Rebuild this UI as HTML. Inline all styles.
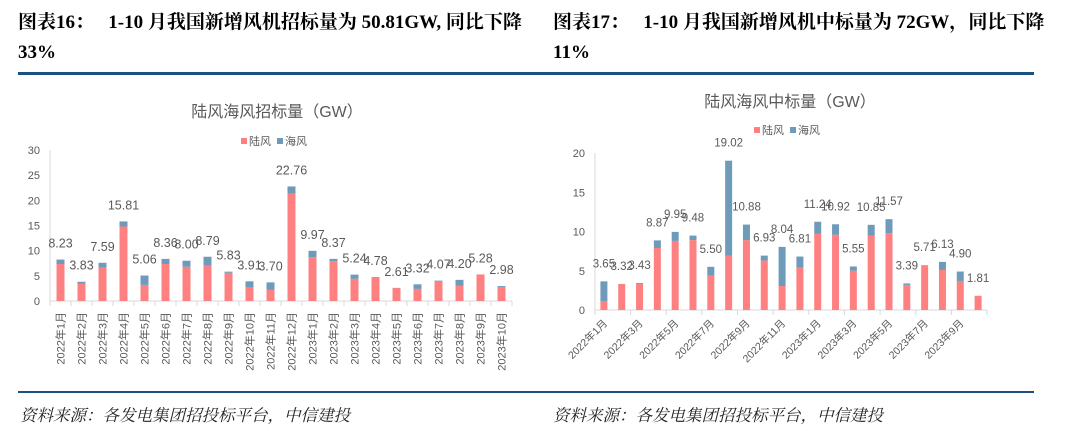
<!DOCTYPE html>
<html><head><meta charset="utf-8">
<style>
html,body{margin:0;padding:0;background:#fff;}
body{width:1080px;height:431px;position:relative;overflow:hidden;font-family:"Liberation Sans","Noto Sans CJK SC",sans-serif;}
.ttl{position:absolute;font-family:"Liberation Serif","Noto Serif CJK SC",serif;font-weight:bold;font-size:19px;color:#000;white-space:nowrap;}
.rule{position:absolute;height:3px;background:#1b5083;}
.rule2{position:absolute;height:2px;background:#1b5083;}
.src{position:absolute;font-family:"Liberation Serif","Noto Serif CJK SC",serif;font-style:italic;font-size:16.5px;color:#222;white-space:nowrap;}
svg{position:absolute;left:0;top:0;}
</style></head><body>
<div class="ttl" style="left:18px;top:7px;">图表16：&nbsp;&nbsp; 1-10 月我国新增风机招标量为 50.81GW, 同比下降</div>
<div class="ttl" style="left:18px;top:42px;">33%</div>
<div class="ttl" style="left:553px;top:7px;">图表17：&nbsp;&nbsp; 1-10 月我国新增风机中标量为 72GW，同比下降</div>
<div class="ttl" style="left:553px;top:42px;">11%</div>
<div class="rule" style="left:18px;top:72px;width:522px;"></div>
<div class="rule" style="left:540px;top:72px;width:494px;"></div>
<div class="rule2" style="left:18px;top:391px;width:522px;"></div>
<div class="rule2" style="left:540px;top:391px;width:494px;"></div>
<div class="src" style="left:20px;top:402px;">资料来源：各发电集团招投标平台，中信建投</div>
<div class="src" style="left:553px;top:402px;">资料来源：各发电集团招投标平台，中信建投</div>
<svg id="chart" width="1080" height="431"></svg>
<script>
const categories=["2022年1月","2022年2月","2022年3月","2022年4月","2022年5月","2022年6月","2022年7月","2022年8月","2022年9月","2022年10月","2022年11月","2022年12月","2023年1月","2023年2月","2023年3月","2023年4月","2023年5月","2023年6月","2023年7月","2023年8月","2023年9月","2023年10月"];
const bidTotal=[8.23,3.83,7.59,15.81,5.06,8.36,8.00,8.79,5.83,3.91,3.70,22.76,9.97,8.37,5.24,4.78,2.61,3.32,4.07,4.20,5.28,2.98];
const bidLand=[7.35,3.4,6.6,14.8,3.2,7.35,6.8,7.0,5.6,2.7,2.2,21.3,8.7,7.9,4.4,4.78,2.61,2.4,4.0,3.0,5.28,2.8];
const bidTicks=[0,5,10,15,20,25,30];
const winTotal=[3.65,3.32,3.43,8.87,9.95,9.48,5.50,19.02,10.88,6.93,8.04,6.81,11.24,10.92,5.55,10.85,11.57,3.39,5.71,6.13,4.90,1.81];
const winLand=[1.15,3.32,3.3,7.9,8.8,8.9,4.4,6.9,8.9,6.3,3.05,5.4,9.7,9.6,5.0,9.45,9.8,3.2,5.71,5.1,3.7,1.81];
const winTicks=[0,5,10,15,20];
const NS="http://www.w3.org/2000/svg";
const svg=document.getElementById('chart');
function mk(tag,attrs,parent){const e=document.createElementNS(NS,tag);for(const k in attrs)e.setAttribute(k,attrs[k]);(parent||svg).appendChild(e);return e;}
const LAND="#ff8080",SEA="#6f9bbb",GRID="#d9d9d9",TXT="#595959";
function drawChart(cfg){
  const g=mk('g',{});
  
  
  const n=categories.length,cw=(cfg.x1-cfg.x0)/n;
  const y=v=>cfg.y0-(v/cfg.max)*(cfg.y0-cfg.yTop);
  const xc=i=>cfg.x0+cw*(i+0.5);
  const t=mk('text',{x:cfg.titleX,y:cfg.titleY,'font-size':16,fill:TXT,'text-anchor':'middle'},g);t.textContent=cfg.title;
  
  const lg=mk('g',{},g);
  
  const lx=cfg.titleX-36;
  mk('rect',{x:lx,y:cfg.legY-7,width:6,height:6,fill:LAND},lg);
  let lt=mk('text',{x:lx+8,y:cfg.legY,'font-size':11,fill:TXT},lg);lt.textContent="陆风";
  mk('rect',{x:lx+36,y:cfg.legY-7,width:6,height:6,fill:SEA},lg);
  lt=mk('text',{x:lx+44,y:cfg.legY,'font-size':11,fill:TXT},lg);lt.textContent="海风";
  mk('line',{x1:cfg.x0,y1:cfg.yTop,x2:cfg.x0,y2:cfg.y0,stroke:GRID},g);
  mk('line',{x1:cfg.x0,y1:cfg.y0,x2:cfg.x1,y2:cfg.y0,stroke:GRID},g);
  cfg.ticks.forEach(v=>{
    const tt=mk('text',{x:cfg.x0-10,y:y(v)+4,'font-size':11,fill:TXT,'text-anchor':'end'},g);tt.textContent=v;
    
  });
  for(let i=0;i<=n;i+=cfg.tickStep){mk('line',{x1:cfg.x0+cw*i,y1:cfg.y0,x2:cfg.x0+cw*i,y2:cfg.y0+5,stroke:GRID},g);}
  for(let i=0;i<n;i++){
    const cx=xc(i),bw=cfg.bw;
    const land=cfg.land[i],tot=cfg.total[i];
    const r1=mk('rect',{x:cx-bw/2,y:y(land),width:bw,height:y(0)-y(land),fill:LAND},g);
    
    if(tot>land){const r2=mk('rect',{x:cx-bw/2,y:y(tot),width:bw,height:y(land)-y(tot),fill:SEA},g);
      }
    const vl=mk('text',{x:cx,y:y(tot)-cfg.labOff,'font-size':cfg.labFs,fill:TXT,'text-anchor':'middle'},g);vl.textContent=tot.toFixed(2);
    
    if(i%cfg.labStep===0){
      let xl;
      if(cfg.rot===-90){xl=mk('text',{x:0,y:0,'font-size':11,fill:TXT,'text-anchor':'end',transform:`translate(${cx+4},${cfg.y0+11}) rotate(-90)`},g);}
      else{xl=mk('text',{x:0,y:0,'font-size':10.5,fill:TXT,'text-anchor':'end',transform:`translate(${cx+4},${cfg.y0+14}) rotate(-45)`},g);}
      xl.textContent=categories[i];
      
    }
  }
}
drawChart({name:'bid-chart',title:"陆风海风招标量（GW）",titleX:277,titleY:117,legY:145,x0:50,x1:512,y0:301,yTop:150,max:30,ticks:bidTicks,total:bidTotal,land:bidLand,bw:8,labOff:12,labFs:12.5,tickStep:1,labStep:1,rot:-90});
drawChart({name:'win-chart',title:"陆风海风中标量（GW）",titleX:790,titleY:107,legY:134,x0:595,x1:987,y0:310,yTop:153,max:20,ticks:winTicks,total:winTotal,land:winLand,bw:7,labOff:14,labFs:11.5,tickStep:2,labStep:2,rot:-45});
</script>
</body></html>
